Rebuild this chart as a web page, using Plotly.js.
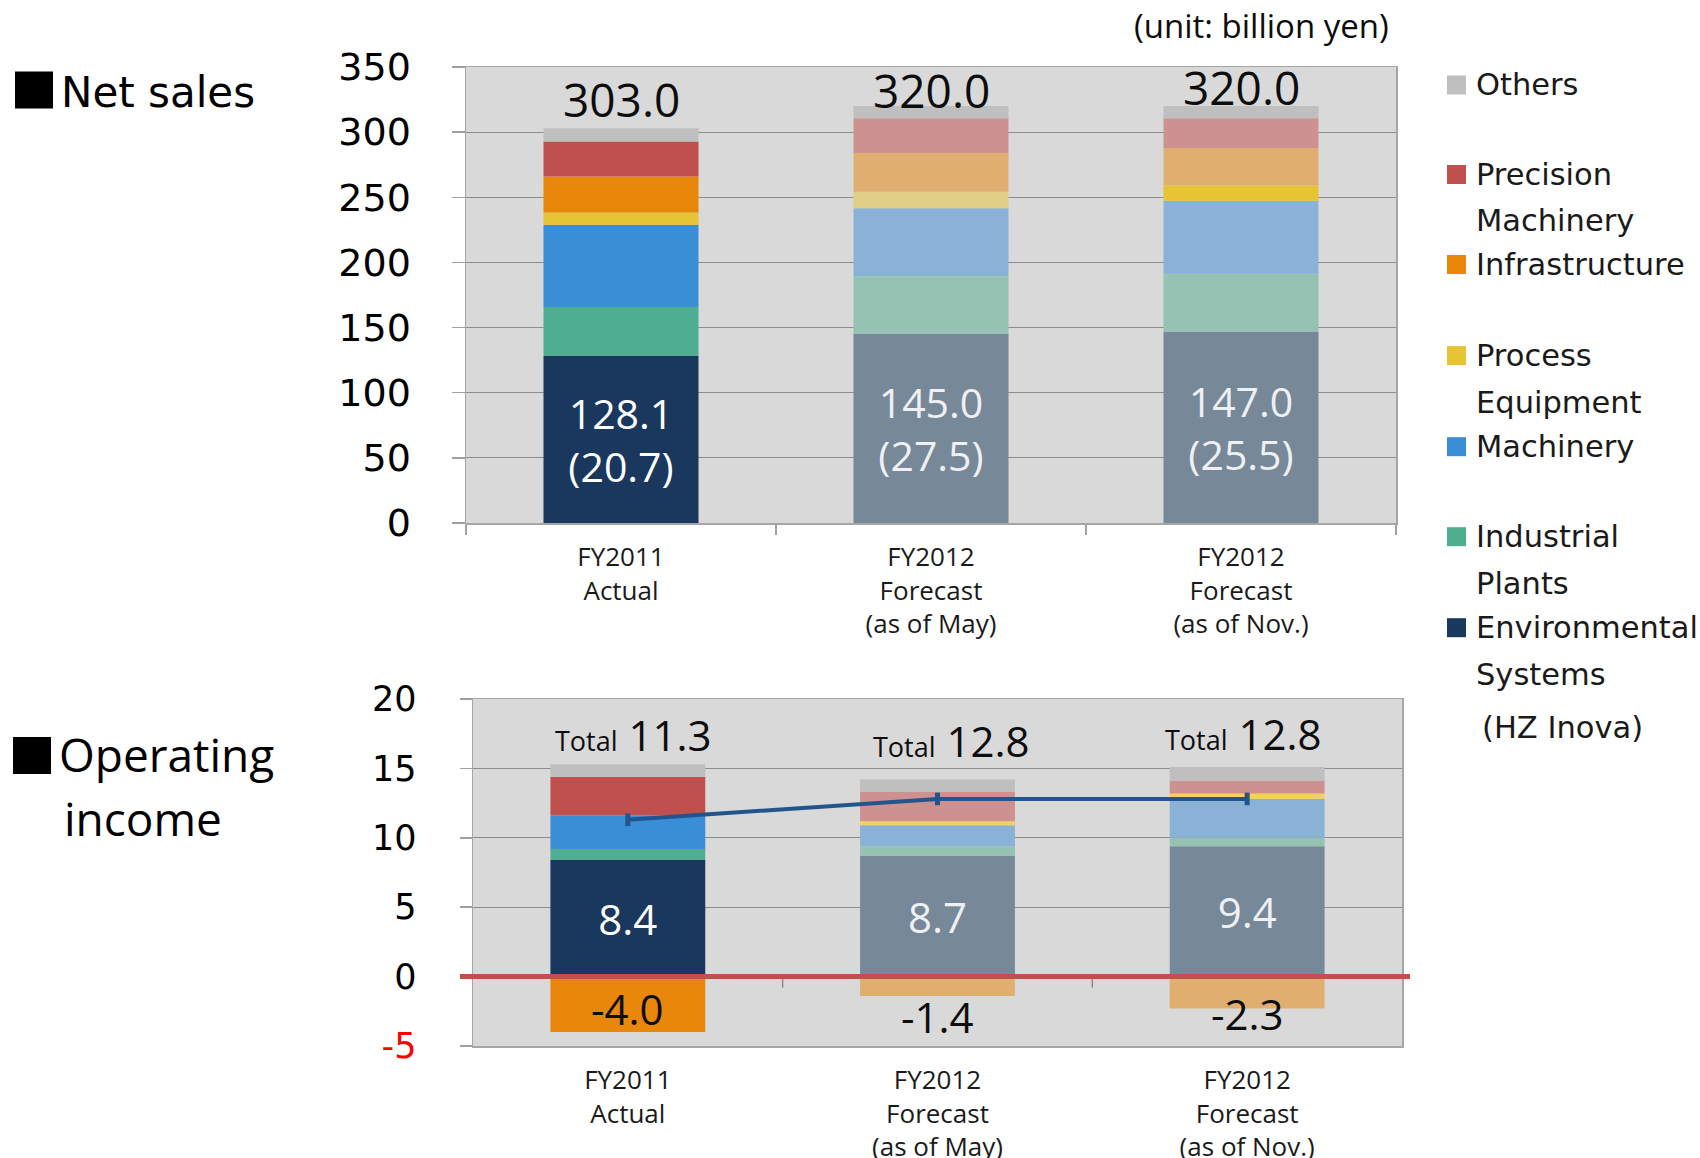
<!DOCTYPE html>
<html>
<head>
<meta charset="utf-8">
<script src="https://cdn.plot.ly/plotly-3.0.1.min.js"></script>
<style>html,body{margin:0;padding:0;background:#fff;}#chart{width:1700px;height:1158px;}</style>
</head>
<body>
<div id="chart"></div>
<script>
// ---------------- DATA ----------------
const categories = ['FY2011<br>Actual', 'FY2012<br>Forecast<br>(as of May)', 'FY2012<br>Forecast<br>(as of Nov.)'];

// Net sales (billion yen)
const salesEnv    = [128.1, 145.0, 147.0];
const salesHZ     = [20.7, 27.5, 25.5];
const salesIP     = [37.7, 44.3, 44.4];
const salesMach   = [63.2, 52.2, 56.0];
const salesPE     = [9.4, 12.8, 11.7];
const salesInfra  = [27.6, 29.7, 28.7];
const salesPrec   = [26.9, 26.6, 22.8];
const salesOthers = [10.1, 9.4, 9.4];
const salesTotal  = [303.0, 320.0, 320.0];

// Operating income (billion yen)
const opEnv    = [8.4, 8.7, 9.4];
const opIP     = [0.8, 0.7, 0.6];
const opMach   = [2.4, 1.5, 2.8];
const opPE     = [0.0, 0.3, 0.4];
const opPrec   = [2.8, 2.1, 0.9];
const opOthers = [0.9, 0.9, 1.0];
const opInfra  = [-4.0, -1.4, -2.3];
const opTotal  = [11.3, 12.8, 12.8];

const legendNames = ['Others', 'Precision<br>Machinery', 'Infrastructure', 'Process<br>Equipment', 'Machinery', 'Industrial<br>Plants', 'Environmental<br>Systems'];
const legendNote = '(HZ Inova)';
const yTicksTop = [0, 50, 100, 150, 200, 250, 300, 350];
const yTicksBottom = [-5, 0, 5, 10, 15, 20];

// ---------------- STYLE ----------------
const W = 1700, H = 1158;
const px = x => x / W;
const py = y => 1 - y / H;

const colEnv    = ['#1A375E', '#778899', '#778899'];
const colIP     = ['#4FAE8F', '#95C2B3', '#95C2B3'];
const colMach   = ['#398ED5', '#89B2D6', '#89B2D6'];
const colPETop  = ['#E6C433', '#E0CD86', '#E6C433'];
const colPEBot  = ['#E6C433', '#F2D25E', '#F2D25E'];
const colInfra  = ['#E8870A', '#E0AF70', '#E0AF70'];
const colPrec   = ['#C0504D', '#CD9190', '#CD9190'];
const colOthers = ['#BFBFBF', '#BFBFBF', '#BFBFBF'];
const legendColors = ['#BFBFBF', '#C0504D', '#E8870A', '#E6C433', '#398ED5', '#4FAE8F', '#1A375E'];

const labelFont = 'Open Sans, Liberation Sans, sans-serif';
const tickFontY = 'DejaVu Sans, sans-serif';

function bar(y, colors, xa, ya, extra) {
  return Object.assign({
    type: 'bar', x: categories, y: y, xaxis: xa, yaxis: ya,
    marker: {color: colors, line: {width: 0}},
    textposition: 'none', hoverinfo: 'skip', showlegend: false
  }, extra || {});
}

const insideColors = ['#FFFFFF', '#EEF0F3', '#EEF0F3'];

const traces = [
  bar(salesEnv, colEnv, 'x', 'y', {
    text: salesEnv.map((v, i) => v.toFixed(1) + '<br>(' + salesHZ[i].toFixed(1) + ')'),
    textposition: 'inside', insidetextanchor: 'middle', constraintext: 'none',
    textfont: {family: labelFont, size: 41, color: insideColors}
  }),
  bar(salesIP, colIP, 'x', 'y'),
  bar(salesMach, colMach, 'x', 'y'),
  bar(salesPE, colPETop, 'x', 'y'),
  bar(salesInfra, colInfra, 'x', 'y'),
  bar(salesPrec, colPrec, 'x', 'y'),
  bar(salesOthers, colOthers, 'x', 'y'),

  bar(opEnv, colEnv, 'x2', 'y2', {
    text: opEnv.map(v => v.toFixed(1)),
    textposition: 'inside', insidetextanchor: 'middle', constraintext: 'none',
    textfont: {family: labelFont, size: 42, color: insideColors}
  }),
  bar(opIP, colIP, 'x2', 'y2'),
  bar(opMach, colMach, 'x2', 'y2'),
  bar(opPE, colPEBot, 'x2', 'y2'),
  bar(opPrec, colPrec, 'x2', 'y2'),
  bar(opOthers, colOthers, 'x2', 'y2'),
  bar(opInfra, colInfra, 'x2', 'y2'),
  {
    type: 'scatter', mode: 'lines+markers', x: categories, y: opTotal,
    xaxis: 'x2', yaxis: 'y2', hoverinfo: 'skip', showlegend: false,
    line: {color: '#23548C', width: 4},
    marker: {symbol: 'line-ns', size: 9, color: '#23548C', line: {color: '#23548C', width: 5}}
  }
];

// ---------------- ANNOTATIONS ----------------
const annotations = [];
const topShift = [29, 16, 19];
salesTotal.forEach((v, i) => annotations.push({
  x: categories[i], y: v, xref: 'x', yref: 'y', text: v.toFixed(1), showarrow: false,
  yanchor: 'middle', yshift: topShift[i], font: {family: labelFont, size: 46, color: '#0D0D0D'}
}));

const opStackTop = opEnv.map((v, i) => v + opIP[i] + opMach[i] + opPE[i] + opPrec[i] + opOthers[i]);
const botShift = [30, 39, 34];
const botXShift = [6, 14, -4];
opTotal.forEach((v, i) => annotations.push({
  x: categories[i], y: opStackTop[i], xref: 'x2', yref: 'y2',
  text: '<span style="font-size:27px">Total</span> ' + v.toFixed(1), showarrow: false,
  yanchor: 'middle', yshift: botShift[i], xshift: botXShift[i],
  font: {family: labelFont, size: 42, color: '#0D0D0D'}
}));

const negShift = [24, -20, -5];
opInfra.forEach((v, i) => annotations.push({
  x: categories[i], y: v, xref: 'x2', yref: 'y2', text: v.toFixed(1), showarrow: false,
  yanchor: 'middle', yshift: negShift[i], font: {family: labelFont, size: 42, color: '#0D0D0D'}
}));

// unit
annotations.push({x: px(1391), y: py(25), xref: 'paper', yref: 'paper', xanchor: 'right', yanchor: 'middle',
  text: '(unit: billion yen)', showarrow: false, font: {family: labelFont, size: 33, color: '#0D0D0D'}});

// section titles
annotations.push({x: px(59), y: py(93), xref: 'paper', yref: 'paper', xanchor: 'left', yanchor: 'middle',
  text: 'Net sales', showarrow: false, font: {family: tickFontY, size: 42, color: '#000'}});
annotations.push({x: px(57), y: py(754), xref: 'paper', yref: 'paper', xanchor: 'left', yanchor: 'middle',
  text: 'Operating', showarrow: false, font: {family: labelFont, size: 46, color: '#000'}});
annotations.push({x: px(62), y: py(818), xref: 'paper', yref: 'paper', xanchor: 'left', yanchor: 'middle',
  text: 'income', showarrow: false, font: {family: labelFont, size: 46, color: '#000'}});

// custom legend
const legendTop = [85, 174.5, 264.5, 355.6, 446.7, 536.7, 627.7];
const legendLine = 46.5;
const shapes = [];
legendNames.forEach((name, i) => {
  name.split('<br>').forEach((line, j) => annotations.push({
    x: px(1474), y: py(legendTop[i] + j * legendLine), xref: 'paper', yref: 'paper',
    xanchor: 'left', yanchor: 'middle', text: line, showarrow: false,
    font: {family: tickFontY, size: 30.5, color: '#1A1A1A'}
  }));
  shapes.push({type: 'rect', xref: 'paper', yref: 'paper',
    x0: px(1447), x1: px(1466), y0: py(legendTop[i] - 9.5), y1: py(legendTop[i] + 9.5),
    fillcolor: legendColors[i], line: {width: 0}});
});
annotations.push({x: px(1480), y: py(727), xref: 'paper', yref: 'paper', xanchor: 'left', yanchor: 'middle',
  text: legendNote, showarrow: false, font: {family: tickFontY, size: 30.5, color: '#1A1A1A'}});

// title squares
shapes.push({type: 'rect', xref: 'paper', yref: 'paper', x0: px(15), x1: px(53), y0: py(71.5), y1: py(108.5),
  fillcolor: '#000', line: {width: 0}});
shapes.push({type: 'rect', xref: 'paper', yref: 'paper', x0: px(13), x1: px(51), y0: py(737), y1: py(774),
  fillcolor: '#000', line: {width: 0}});

// category boundary ticks on the zero line of the lower chart
[0.5, 1.5].forEach(b => shapes.push({type: 'line', xref: 'x2', yref: 'y2', x0: b, x1: b, y0: 0, y1: -0.8,
  line: {color: '#8C8C8C', width: 1.5}, layer: 'below'}));
// red zero line
shapes.push({type: 'line', xref: 'paper', yref: 'y2', x0: px(460), x1: px(1410), y0: 0, y1: 0,
  line: {color: '#C0504D', width: 5}});

const axisCommon = {showline: true, mirror: true, linecolor: '#A6A6A6', linewidth: 1.5, fixedrange: true};

const layout = {
  width: W, height: H, margin: {l: 0, r: 0, t: 0, b: 0},
  paper_bgcolor: '#FFFFFF', plot_bgcolor: '#D9D9D9',
  barmode: 'relative', bargap: 0.5, showlegend: false, hovermode: false,
  xaxis: Object.assign({}, axisCommon, {
    domain: [px(466), px(1396)], anchor: 'y', type: 'category',
    tickson: 'boundaries', ticks: 'outside', ticklen: 10, tickcolor: '#A0A0A0', tickwidth: 1.5,
    showgrid: false, tickfont: {family: labelFont, size: 26, color: '#1A1A1A'}, ticklabelstandoff: 10
  }),
  yaxis: Object.assign({}, axisCommon, {
    domain: [py(523), py(67)], anchor: 'x', range: [0, 350], tickvals: yTicksTop,
    ticks: 'outside', ticklen: 13, tickcolor: '#A0A0A0', tickwidth: 1.5,
    gridcolor: '#8C8C8C', gridwidth: 1, zeroline: false,
    tickfont: {family: tickFontY, size: 38, color: '#000'}, ticklabelstandoff: 33
  }),
  xaxis2: Object.assign({}, axisCommon, {
    domain: [px(473), px(1402)], anchor: 'y2', type: 'category', ticks: '',
    showgrid: false, tickfont: {family: labelFont, size: 26, color: '#1A1A1A'}, ticklabelstandoff: 10
  }),
  yaxis2: Object.assign({}, axisCommon, {
    domain: [py(1046), py(699)], anchor: 'x2', range: [-5, 20], tickvals: yTicksBottom,
    ticktext: yTicksBottom.map(v => v < 0 ? '<span style="color:#FF0000">' + v + '</span>' : String(v)),
    ticks: 'outside', ticklen: 12, tickcolor: '#A0A0A0', tickwidth: 1.5,
    gridcolor: '#8C8C8C', gridwidth: 1, zeroline: false,
    tickfont: {family: tickFontY, size: 35, color: '#000'}, ticklabelstandoff: 36
  }),
  annotations: annotations,
  shapes: shapes
};

Plotly.newPlot('chart', traces, layout, {staticPlot: true, displayModeBar: false});
</script>
</body>
</html>
